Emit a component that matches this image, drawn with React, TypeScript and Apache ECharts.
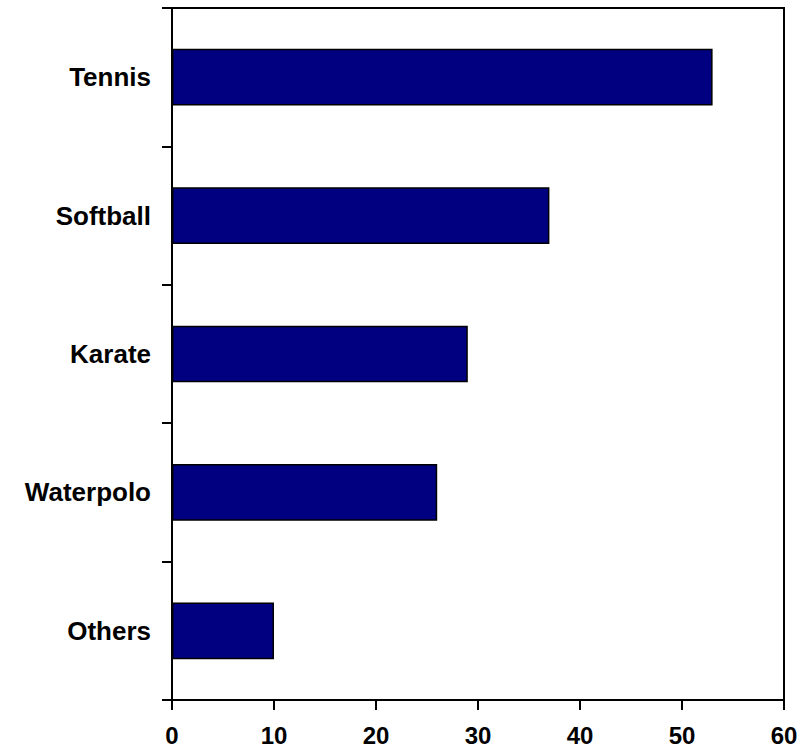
import React, { useEffect, useRef } from "react";
import * as echarts from "echarts";

const categories = ["Tennis", "Softball", "Karate", "Waterpolo", "Others"];
const values = [53, 37, 29, 26, 10];
const xTicks = { min: 0, max: 60, interval: 10 };

export default function App() {
  const ref = useRef<HTMLDivElement>(null);
  useEffect(() => {
    if (!ref.current) return;
    const chart = echarts.init(ref.current, null, { renderer: "svg" });
    chart.setOption({
      animation: false,
      grid: {
        left: 172,
        top: 8,
        right: 28,
        bottom: 50,
        show: true,
        borderColor: "#000",
        borderWidth: 2,
        backgroundColor: "transparent",
      },
      xAxis: {
        type: "value",
        min: xTicks.min,
        max: xTicks.max,
        interval: xTicks.interval,
        splitLine: { show: false },
        axisLine: { show: true, lineStyle: { color: "#000", width: 2 } },
        axisTick: { show: true, length: 10, lineStyle: { color: "#000", width: 2 } },
        axisLabel: {
          color: "#000",
          fontFamily: "Liberation Sans, Arial, sans-serif",
          fontWeight: "bold",
          fontSize: 24,
          margin: 23,
        },
      },
      yAxis: {
        type: "category",
        data: categories,
        inverse: true,
        axisLine: { show: true, lineStyle: { color: "#000", width: 2 } },
        axisTick: { show: true, length: 10, alignWithLabel: false, lineStyle: { color: "#000", width: 2 } },
        axisLabel: {
          color: "#000",
          fontFamily: "Liberation Sans, Arial, sans-serif",
          fontWeight: "bold",
          fontSize: 26,
          margin: 21,
        },
        splitLine: { show: false },
      },
      series: [
        {
          type: "bar",
          data: values,
          barWidth: "41%",
          itemStyle: { color: "#000080", borderColor: "#000", borderWidth: 1.5 },
        },
      ],
    });
    return () => chart.dispose();
  }, []);
  return <div ref={ref} style={{ width: 812, height: 750, position: "absolute", left: 0, top: 0 }} />;
}
